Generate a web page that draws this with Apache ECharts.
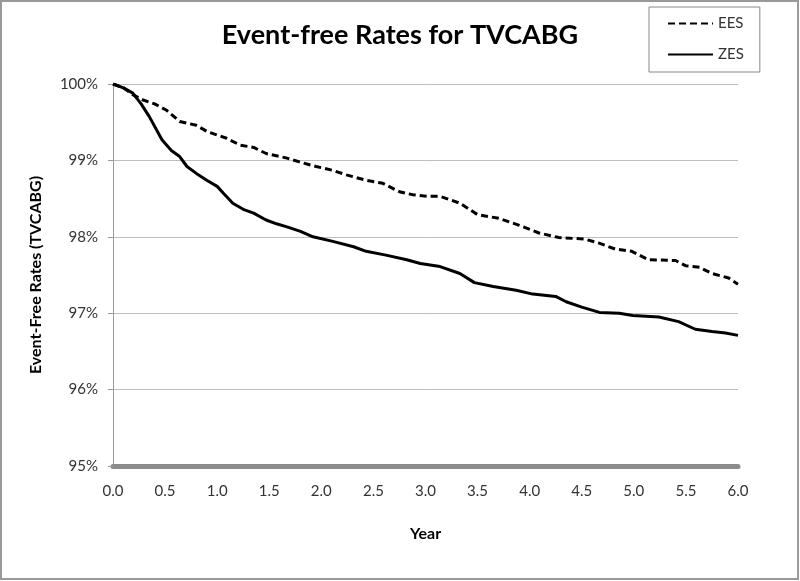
<!DOCTYPE html>
<html>
<head>
<meta charset="utf-8">
<script src="https://cdn.jsdelivr.net/npm/echarts@6/dist/echarts.min.js"></script>
<style>
  html, body { margin: 0; padding: 0; background: #fff; }
  #chart { width: 800px; height: 581px; }
</style>
</head>
<body>
<div id="chart"></div>
<script>
// values (year, event-free %)
const eesYears = [0, 0.1, 0.19, 0.29, 0.40, 0.51, 0.64, 0.80, 0.90, 1.09, 1.22, 1.35, 1.47, 1.67, 1.79, 1.95, 2.11, 2.24, 2.43, 2.59, 2.75, 2.88, 3.02, 3.14, 3.33, 3.50, 3.71, 3.90, 4.09, 4.28, 4.53, 4.66, 4.82, 4.98, 5.14, 5.40, 5.50, 5.63, 5.75, 5.91, 6.0]
const eesRates = [100, 99.95, 99.86, 99.79, 99.74, 99.66, 99.51, 99.46, 99.38, 99.29, 99.20, 99.17, 99.09, 99.03, 98.98, 98.92, 98.87, 98.81, 98.74, 98.70, 98.59, 98.55, 98.53, 98.53, 98.44, 98.29, 98.24, 98.15, 98.05, 97.99, 97.97, 97.92, 97.84, 97.81, 97.70, 97.69, 97.62, 97.60, 97.52, 97.46, 97.38]

const zesYears = [0, 0.1, 0.19, 0.27, 0.35, 0.47, 0.56, 0.64, 0.71, 0.80, 0.90, 1.0, 1.06, 1.15, 1.25, 1.35, 1.47, 1.57, 1.67, 1.80, 1.92, 2.11, 2.31, 2.43, 2.62, 2.82, 2.95, 3.14, 3.33, 3.47, 3.65, 3.87, 4.03, 4.25, 4.35, 4.50, 4.67, 4.86, 4.99, 5.24, 5.43, 5.59, 5.75, 5.88, 6.0]
const zesRates = [100, 99.95, 99.88, 99.74, 99.57, 99.27, 99.13, 99.05, 98.92, 98.83, 98.74, 98.66, 98.57, 98.44, 98.36, 98.31, 98.22, 98.17, 98.13, 98.07, 98.00, 97.94, 97.87, 97.81, 97.76, 97.70, 97.65, 97.61, 97.52, 97.40, 97.35, 97.30, 97.25, 97.22, 97.15, 97.08, 97.01, 97.00, 96.97, 96.95, 96.89, 96.79, 96.76, 96.74, 96.71]

const pair = (xs, ys) => xs.map((x, i) => [x, ys[i]])

const font = 'Lato, "Open Sans", sans-serif'
const chart = echarts.init(document.getElementById('chart'))

chart.setOption({
  backgroundColor: '#fff',
  animation: false,
  title: {
    text: 'Event-free Rates for TVCABG',
    left: 'center',
    top: 17,
    textStyle: { fontFamily: font, fontSize: 27, fontWeight: 'bold', color: '#000' }
  },
  legend: {
    orient: 'vertical',
    left: 649,
    top: 7,
    padding: [9, 16, 10, 18],
    itemGap: 16,
    itemWidth: 45,
    itemHeight: 14,
    borderColor: '#888',
    borderWidth: 1,
    backgroundColor: '#fff',
    itemStyle: { opacity: 0 },
    textStyle: { fontFamily: font, fontSize: 15, color: '#333' },
    data: ['EES', 'ZES']
  },
  grid: { left: 113, right: 62, top: 84, bottom: 115 },
  xAxis: {
    type: 'value',
    min: 0,
    max: 6,
    interval: 0.5,
    name: 'Year',
    nameLocation: 'middle',
    nameGap: 60,
    nameTextStyle: { fontFamily: font, fontSize: 16, fontWeight: 'bold', color: '#000' },
    axisLine: { show: true, lineStyle: { color: '#8c8c8c', width: 5 } },
    axisTick: { show: false },
    splitLine: { show: false },
    axisLabel: {
      margin: 18,
      fontFamily: font,
      fontSize: 15,
      color: '#333',
      formatter: v => v.toFixed(1)
    }
  },
  yAxis: {
    type: 'value',
    min: 95,
    max: 100,
    interval: 1,
    name: 'Event-Free Rates (TVCABG)',
    nameLocation: 'middle',
    nameGap: 69,
    nameTextStyle: { fontFamily: font, fontSize: 16, fontWeight: 'bold', color: '#000' },
    axisLine: { show: true, lineStyle: { color: '#9a9a9a', width: 1 } },
    axisTick: { show: true, length: 5, lineStyle: { color: '#9a9a9a' } },
    splitLine: { show: true, lineStyle: { color: '#bdbdbd', width: 1 } },
    axisLabel: {
      margin: 15,
      fontFamily: font,
      fontSize: 15,
      color: '#333',
      formatter: v => v + '%'
    }
  },
  graphic: [
    {
      type: 'rect',
      shape: { x: 1, y: 1, width: 797, height: 578 },
      style: { fill: 'none', stroke: '#999', lineWidth: 2 },
      silent: true
    }
  ],
  series: [
    {
      name: 'EES',
      type: 'line',
      symbol: 'none',
      color: '#000',
      lineStyle: { color: '#000', width: 3, type: [7, 4] },
      data: pair(eesYears, eesRates)
    },
    {
      name: 'ZES',
      type: 'line',
      symbol: 'none',
      color: '#000',
      lineStyle: { color: '#000', width: 3 },
      data: pair(zesYears, zesRates)
    }
  ]
})
</script>
</body>
</html>
